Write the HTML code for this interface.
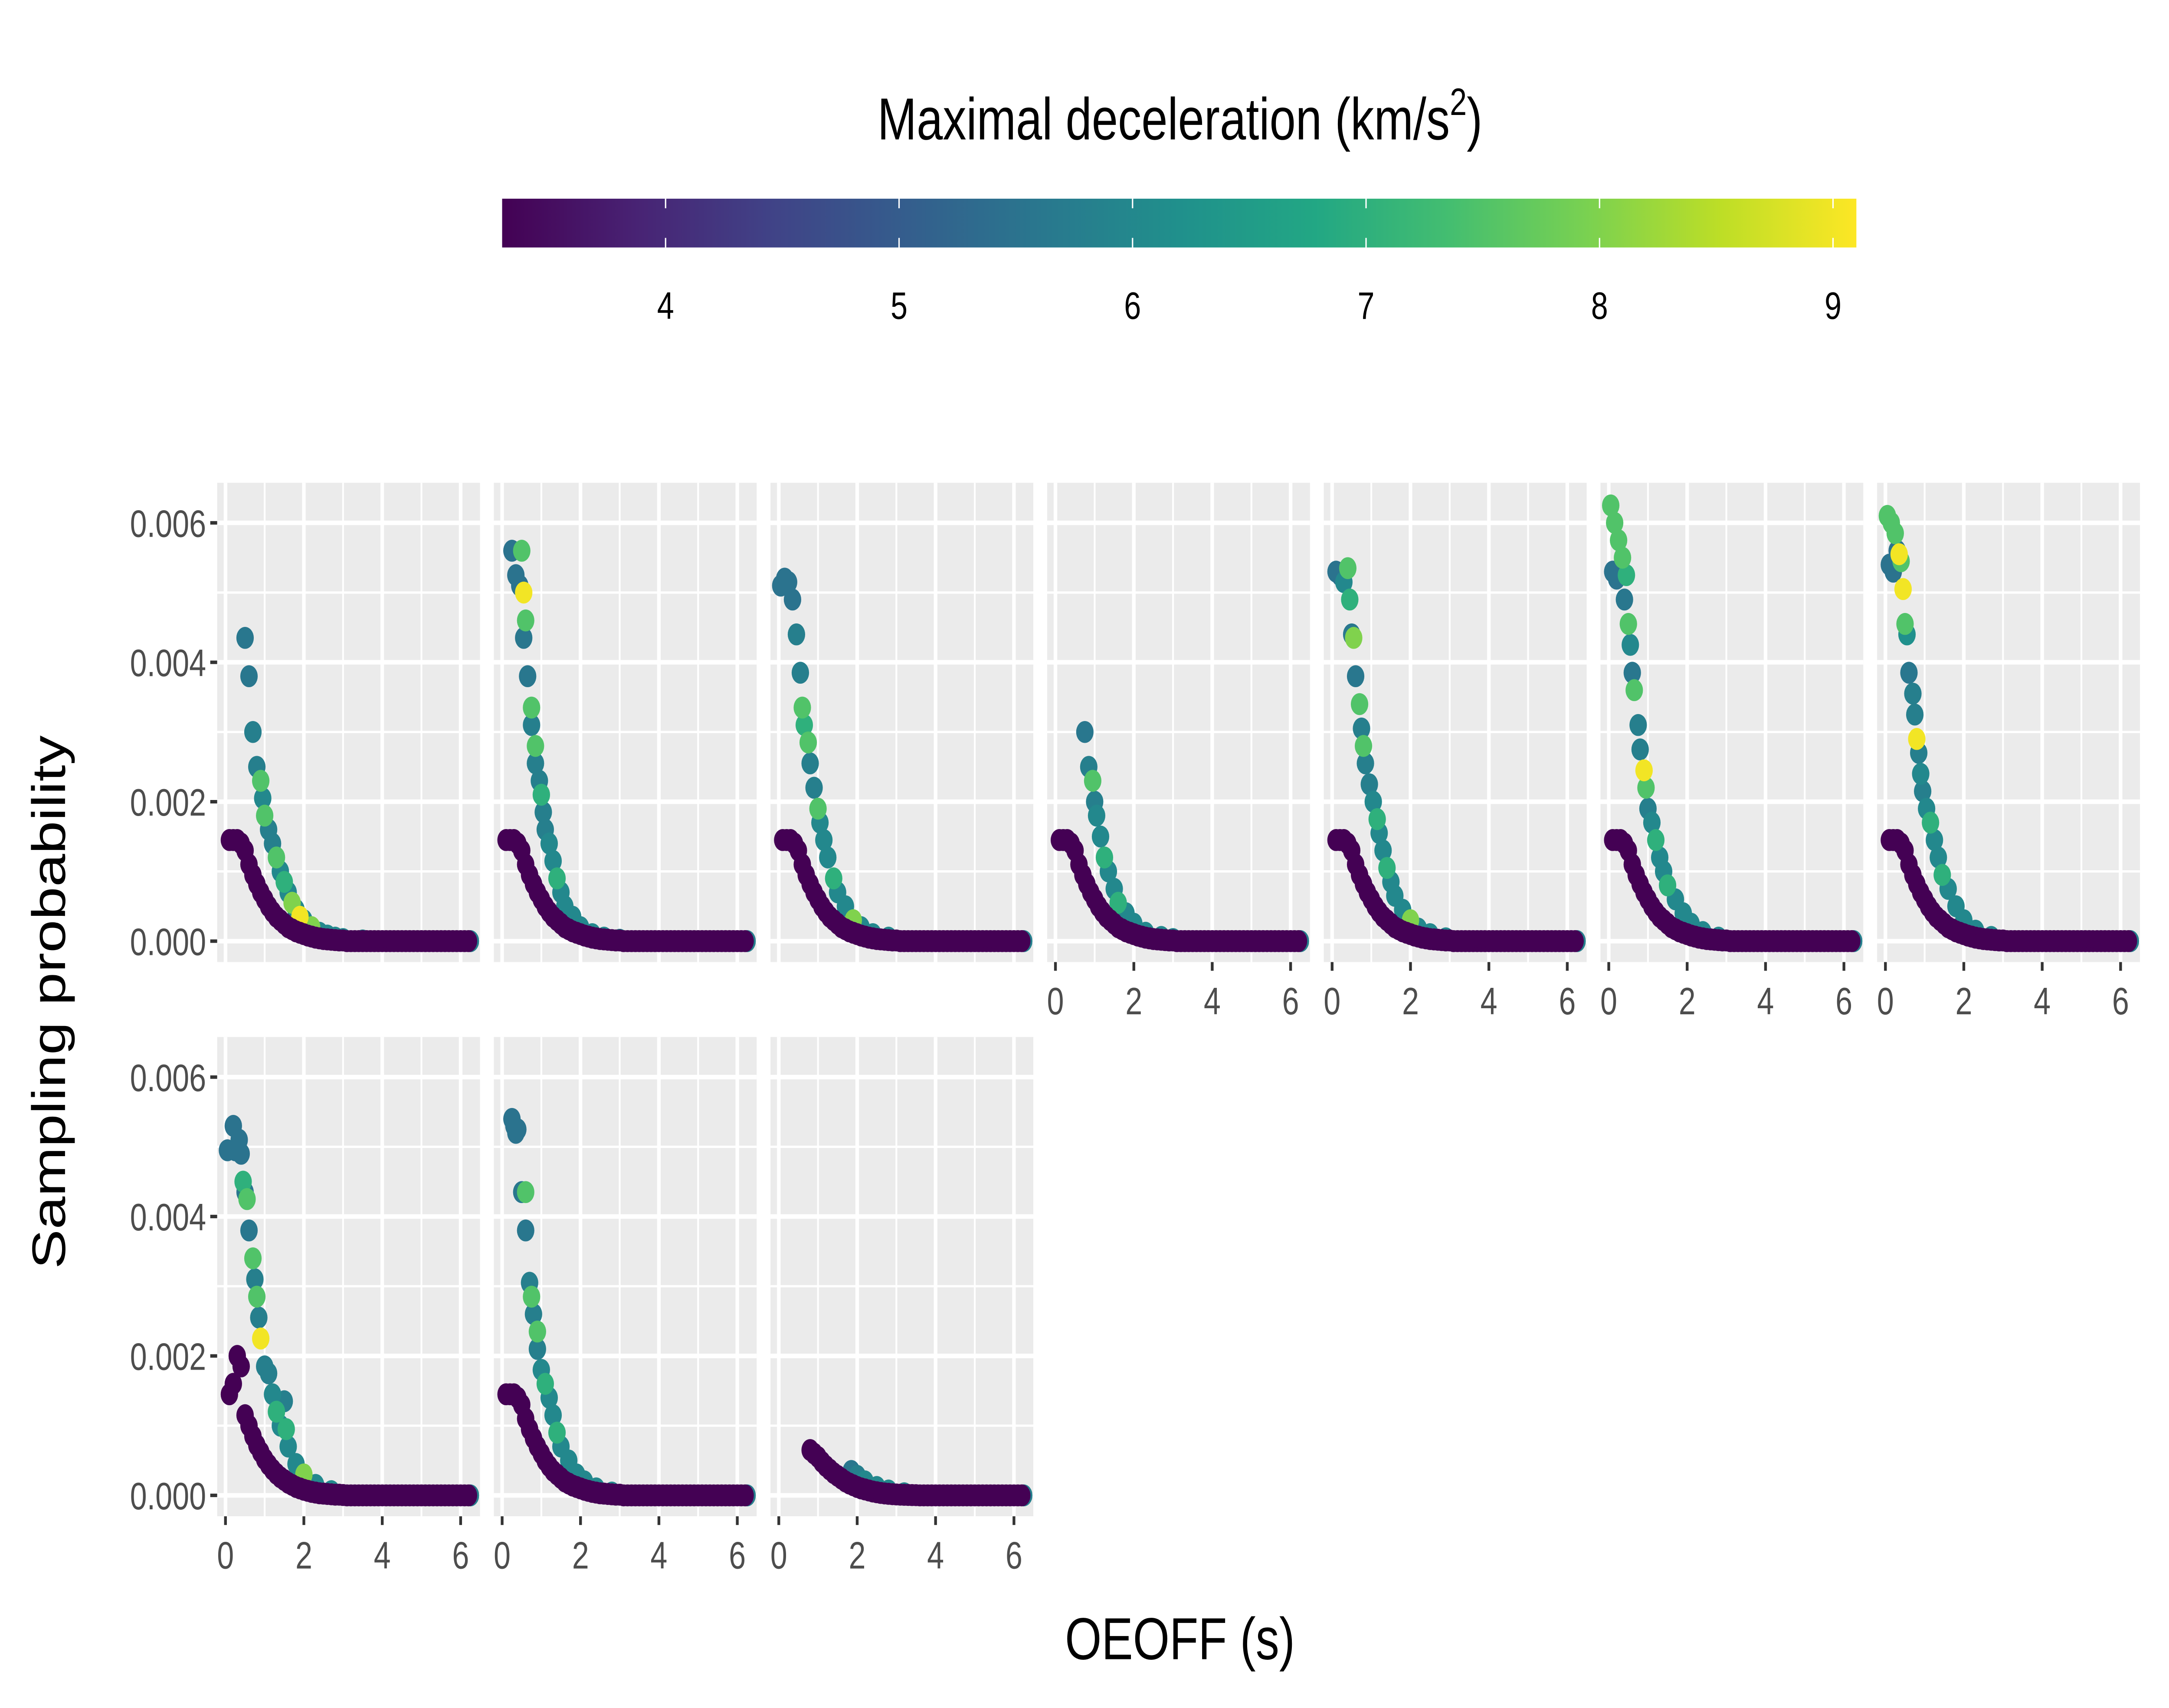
<!DOCTYPE html>
<html><head><meta charset="utf-8"><style>
html,body{margin:0;padding:0;background:#fff;overflow:hidden;width:100vw;height:100vh;}
svg{display:block;width:100vw;height:100vh;font-family:"Liberation Sans",Arial,sans-serif;}
</style></head><body>
<svg id="chart" viewBox="0 0 1568 980" preserveAspectRatio="none" xmlns="http://www.w3.org/2000/svg">
<rect x="0" y="0" width="1568" height="980" fill="#fff"/>
<text x="853" y="80" text-anchor="middle" font-size="34" fill="#000">Maximal deceleration (km/s<tspan font-size="22" dy="-14">2</tspan><tspan dy="14">)</tspan></text>
<g id="legend"></g>
<g id="panels"></g>
<text x="853" y="952" text-anchor="middle" font-size="34" fill="#000">OEOFF (s)</text>
<text transform="translate(47,575) rotate(-90)" text-anchor="middle" font-size="34" fill="#000">Sampling probability</text>
</svg>
<script>
const xTicks = [0, 2, 4, 6];
const yTicks = [0, 0.002, 0.004, 0.006];
const yTickLabels = ["0.000", "0.002", "0.004", "0.006"];
const legendTicks = [4, 5, 6, 7, 8, 9];
const purpleX = [0.1,0.2,0.3,0.4,0.5,0.6,0.7,0.8,0.9,1.0,1.1,1.2,1.3,1.4,1.5,1.6,1.7,1.8,1.9,2.0,2.1,2.2,2.3,2.4,2.5,2.6,2.7,2.8,2.9,3.0,3.1,3.2,3.3,3.4,3.5,3.6,3.7,3.8,3.9,4.0,4.1,4.2,4.3,4.4,4.5,4.6,4.7,4.8,4.9,5.0,5.1,5.2,5.3,5.4,5.5,5.6,5.7,5.8,5.9,6.0,6.1,6.2];
const purpleY = [1.45,1.45,1.45,1.4,1.3,1.1,0.95,0.82,0.7,0.6,0.5,0.42,0.35,0.3,0.25,0.2,0.17,0.14,0.12,0.1,0.08,0.065,0.05,0.04,0.03,0.025,0.02,0.015,0.01,0.01,0,0,0,0,0,0,0,0,0,0,0,0,0,0,0,0,0,0,0,0,0,0,0,0,0,0,0,0,0,0,0,0];
const purpleY8 = [1.45,1.6,2.0,1.85,1.15,1.0,0.85,0.72,0.62,0.52,0.44,0.37,0.31,0.26,0.22,0.18,0.15,0.12,0.1,0.08,0.065,0.05,0.04,0.03,0.025,0.02,0.015,0.01,0.01,0.005,0,0,0,0,0,0,0,0,0,0,0,0,0,0,0,0,0,0,0,0,0,0,0,0,0,0,0,0,0,0,0,0];
const purpleY10 = [null,null,null,null,null,null,null,0.65,0.6,0.55,0.48,0.42,0.37,0.32,0.28,0.24,0.2,0.17,0.145,0.12,0.1,0.085,0.07,0.055,0.045,0.035,0.028,0.022,0.017,0.013,0.01,0.008,0.006,0.004,0.003,0,0,0,0,0,0,0,0,0,0,0,0,0,0,0,0,0,0,0,0,0,0,0,0,0,0,0];
const purpleDecel = 3.3;
const panel1 = [[0.5,4.35,5.6],[0.6,3.8,5.6],[0.7,3.0,5.8],[0.8,2.5,5.8],[0.9,2.3,7.5],[0.95,2.05,6],[1.0,1.8,7.5],[1.1,1.6,5.8],[1.2,1.4,5.8],[1.3,1.2,7.5],[1.4,1.0,6],[1.5,0.85,7],[1.6,0.7,6],[1.7,0.55,8],[1.8,0.45,6],[1.9,0.35,9],[2.0,0.3,6],[2.2,0.2,8],[2.4,0.12,6],[2.6,0.08,6],[2.8,0.05,6],[3.0,0.03,6],[3.5,0.01,6],[6.25,0,5.8]];
const panel2 = [[0.25,5.6,5.5],[0.35,5.25,5.5],[0.45,5.1,5.5],[0.5,5.6,7.5],[0.55,5.0,9],[0.6,4.6,7.5],[0.55,4.35,5.6],[0.65,3.8,5.6],[0.75,3.35,7.5],[0.75,3.1,5.8],[0.85,2.8,7.5],[0.85,2.55,5.8],[0.95,2.3,5.8],[1.0,2.1,7],[1.05,1.85,5.8],[1.1,1.6,5.8],[1.2,1.4,6],[1.3,1.15,6],[1.4,0.9,7],[1.5,0.7,6],[1.6,0.5,6],[1.8,0.35,6],[2.0,0.2,6],[2.3,0.1,6],[2.6,0.05,6],[3.0,0.02,6],[6.25,0,5.8]];
const panel3 = [[0.05,5.1,5.5],[0.15,5.2,5.5],[0.25,5.15,5.5],[0.35,4.9,5.5],[0.45,4.4,5.8],[0.55,3.85,5.8],[0.6,3.35,7.5],[0.65,3.1,7],[0.75,2.85,7.5],[0.8,2.55,5.8],[0.9,2.2,5.8],[1.0,1.9,7.5],[1.05,1.7,6],[1.15,1.45,6],[1.25,1.2,6],[1.4,0.9,7],[1.5,0.7,6],[1.7,0.5,6],[1.9,0.3,8],[2.1,0.2,6],[2.4,0.1,6],[2.8,0.05,6],[6.25,0,5.8]];
const panel4 = [[0.75,3.0,5.6],[0.85,2.5,5.8],[0.95,2.3,7.5],[1.0,2.0,5.8],[1.05,1.8,6],[1.15,1.5,6],[1.25,1.2,7],[1.35,1.0,6],[1.5,0.75,6],[1.6,0.55,7],[1.8,0.4,6],[2.0,0.25,6],[2.3,0.12,6],[2.7,0.06,6],[3.0,0.03,6],[6.25,0,5.8]];
const panel5 = [[0.1,5.3,5.5],[0.2,5.25,5.5],[0.3,5.15,6],[0.4,5.35,7.5],[0.45,4.9,7],[0.5,4.4,5.6],[0.55,4.35,8],[0.6,3.8,5.6],[0.7,3.4,7.5],[0.75,3.05,5.8],[0.8,2.8,7.5],[0.85,2.55,5.8],[0.95,2.25,5.8],[1.05,2.0,6],[1.15,1.75,7],[1.2,1.55,6],[1.3,1.3,6],[1.4,1.05,7],[1.5,0.85,6],[1.6,0.65,6],[1.8,0.45,6],[2.0,0.3,8],[2.2,0.18,6],[2.5,0.1,6],[2.9,0.04,6],[6.25,0,5.8]];
const panel6 = [[0.05,6.25,7.5],[0.1,5.3,5.5],[0.15,6.0,7.5],[0.2,5.2,5.5],[0.25,5.75,7.5],[0.35,5.5,7.5],[0.4,4.9,5.6],[0.45,5.25,7],[0.5,4.55,7.5],[0.55,4.25,6],[0.6,3.85,5.6],[0.65,3.6,7.5],[0.75,3.1,5.8],[0.8,2.75,5.8],[0.9,2.45,9],[0.95,2.2,7.5],[1.0,1.9,5.8],[1.1,1.7,6],[1.2,1.45,7],[1.3,1.2,6],[1.4,1.0,6],[1.5,0.8,7],[1.7,0.6,6],[1.9,0.4,6],[2.1,0.25,6],[2.4,0.13,6],[2.8,0.05,6],[6.25,0,5.8]];
const panel7 = [[0.05,6.1,7.5],[0.1,5.4,5.5],[0.15,6.0,7.5],[0.2,5.3,5.5],[0.25,5.85,7.5],[0.3,5.6,5.5],[0.35,5.55,9],[0.4,5.45,7.5],[0.45,5.05,9],[0.5,4.55,7.5],[0.55,4.4,6.2],[0.6,3.85,5.6],[0.7,3.55,5.8],[0.75,3.25,5.8],[0.8,2.9,9],[0.85,2.7,5.8],[0.9,2.4,6],[0.95,2.15,5.8],[1.05,1.9,6],[1.15,1.7,7],[1.25,1.45,6],[1.35,1.2,6],[1.45,0.95,7],[1.6,0.75,6],[1.8,0.5,6],[2.0,0.3,6],[2.3,0.15,6],[2.7,0.06,6],[6.25,0,5.8]];
const panel8 = [[0.05,4.95,5.5],[0.2,5.3,5.5],[0.25,4.95,5.5],[0.35,5.1,5.5],[0.4,4.9,5.5],[0.45,4.5,7],[0.5,4.35,5.6],[0.55,4.25,7.5],[0.6,3.8,5.6],[0.7,3.4,7.5],[0.75,3.1,5.8],[0.8,2.85,7.5],[0.85,2.55,5.8],[0.9,2.25,9],[1.0,1.85,5.8],[1.1,1.75,5.8],[1.2,1.45,6],[1.3,1.2,7],[1.4,1.0,6],[1.5,1.35,5.8],[1.55,0.95,7],[1.6,0.7,6],[1.8,0.45,6],[2.0,0.3,8],[2.3,0.15,6],[2.7,0.06,6],[6.25,0,5.8]];
const panel9 = [[0.25,5.4,5.5],[0.3,5.3,5.5],[0.35,5.2,5.5],[0.4,5.25,5.5],[0.5,4.35,5.6],[0.6,4.35,7.5],[0.6,3.8,5.6],[0.7,3.05,5.8],[0.75,2.85,7.5],[0.8,2.6,5.8],[0.9,2.35,7.5],[0.9,2.1,5.8],[1.0,1.8,6],[1.1,1.6,7],[1.2,1.4,6],[1.3,1.15,6],[1.4,0.9,7],[1.5,0.7,6],[1.7,0.5,6],[1.9,0.3,6],[2.1,0.2,6],[2.4,0.1,6],[2.8,0.04,6],[6.25,0,5.8]];
const panel10 = [[1.85,0.35,5.6],[2.0,0.28,5.8],[2.2,0.2,6],[2.5,0.12,6],[2.8,0.07,6],[3.2,0.03,6],[6.25,0,5.8]];

const NS = "http://www.w3.org/2000/svg";
function mk(tag, attrs, parent){const e=document.createElementNS(NS,tag);for(const k in attrs)e.setAttribute(k,attrs[k]);parent.appendChild(e);return e;}
const vstops=[[0,68,1,84],[0.1,72,35,116],[0.2,64,67,135],[0.3,52,94,141],[0.4,41,120,142],[0.5,32,144,140],[0.6,34,167,132],[0.7,68,190,112],[0.8,121,209,81],[0.9,189,222,38],[1,253,231,37]];
function viridis(t){t=Math.max(0,Math.min(1,t));for(let i=1;i<vstops.length;i++){if(t<=vstops[i][0]){const a=vstops[i-1],b=vstops[i];const f=(t-a[0])/(b[0]-a[0]);return `rgb(${Math.round(a[1]+f*(b[1]-a[1]))},${Math.round(a[2]+f*(b[2]-a[2]))},${Math.round(a[3]+f*(b[3]-a[3]))})`;}}return "rgb(253,231,37)";}
const cMin=3.3,cMax=9.1;
function col(v){return viridis((v-cMin)/(cMax-cMin));}

const lg=document.getElementById('legend');
const lx0=363,lx1=1342,ly=114,lh=28;
const defs=mk('defs',{},lg);
const grad=mk('linearGradient',{id:'vg',x1:'0',x2:'1',y1:'0',y2:'0'},defs);
for(const s of vstops){mk('stop',{offset:s[0],'stop-color':`rgb(${s[1]},${s[2]},${s[3]})`},grad);}
const bar=mk('rect',{x:lx0,y:ly,width:lx1-lx0,height:lh,fill:'url(#vg)'},lg);


function lgx(v){return lx0+(v-cMin)/(cMax-cMin)*(lx1-lx0);}
for(const t of legendTicks){
  const x=lgx(t);
  mk('line',{x1:x,x2:x,y1:ly,y2:ly+5.5,stroke:'#fff','stroke-width':1},lg);
  mk('line',{x1:x,x2:x,y1:ly+lh-5.5,y2:ly+lh,stroke:'#fff','stroke-width':1},lg);
  const tx=mk('text',{x:x,y:183,'text-anchor':'middle','font-size':22,fill:'#000'},lg);
  tx.textContent=t;
  
  
}

const panelsG=document.getElementById('panels');
const pw=190,ph=275;
const layout=[
 {x:157,y:277,data:panel1,py:purpleY,xl:false,yl:true},
 {x:357,y:277,data:panel2,py:purpleY,xl:false,yl:false},
 {x:557,y:277,data:panel3,py:purpleY,xl:false,yl:false},
 {x:757,y:277,data:panel4,py:purpleY,xl:true,yl:false},
 {x:957,y:277,data:panel5,py:purpleY,xl:true,yl:false},
 {x:1157,y:277,data:panel6,py:purpleY,xl:true,yl:false},
 {x:1357,y:277,data:panel7,py:purpleY,xl:true,yl:false},
 {x:157,y:595,data:panel8,py:purpleY8,xl:true,yl:true},
 {x:357,y:595,data:panel9,py:purpleY,xl:true,yl:false},
 {x:557,y:595,data:panel10,py:purpleY10,xl:true,yl:false}
];
layout.forEach((p,i)=>{
  const g=mk('g',{},panelsG);
  
  
  const xs=v=>p.x+6+(v/6)*170;
  const ys=v=>p.y+23+(0.006-v)/0.006*240;
  mk('rect',{x:p.x,y:p.y,width:pw,height:ph,fill:'#ebebeb'},g);
  for(const v of [1,3,5]) mk('line',{x1:xs(v),x2:xs(v),y1:p.y,y2:p.y+ph,stroke:'#fff','stroke-width':1.3},g);
  for(const v of [0.001,0.003,0.005]) mk('line',{x1:p.x,x2:p.x+pw,y1:ys(v),y2:ys(v),stroke:'#fff','stroke-width':1.3},g);
  for(const v of xTicks) mk('line',{x1:xs(v),x2:xs(v),y1:p.y,y2:p.y+ph,stroke:'#fff','stroke-width':2.6},g);
  for(const v of yTicks) mk('line',{x1:p.x,x2:p.x+pw,y1:ys(v),y2:ys(v),stroke:'#fff','stroke-width':2.6},g);
  const pts=p.data.slice().sort((a,b)=>a[2]-b[2]);
  for(const d of pts){
    const c=mk('circle',{cx:xs(d[0]),cy:ys(d[1]/1000),r:6.3,fill:col(d[2])},g);
    
    
  }
  for(let k=0;k<purpleX.length;k++){
    if(p.py[k]===null)continue;
    const c=mk('circle',{cx:xs(purpleX[k]),cy:ys(p.py[k]/1000),r:6.3,fill:col(purpleDecel)},g);
    
    
  }
  if(p.yl){
    yTicks.forEach((v,j)=>{
      mk('line',{x1:p.x-5,x2:p.x,y1:ys(v),y2:ys(v),stroke:'#333','stroke-width':2},g);
      const t=mk('text',{x:p.x-8,y:ys(v)+8,'text-anchor':'end','font-size':22,fill:'#4d4d4d'},g);
      t.textContent=yTickLabels[j];
      
      
    });
  }
  if(p.xl){
    for(const v of xTicks){
      mk('line',{x1:xs(v),x2:xs(v),y1:p.y+ph,y2:p.y+ph+5,stroke:'#333','stroke-width':2},g);
      const t=mk('text',{x:xs(v),y:p.y+ph+30,'text-anchor':'middle','font-size':22,fill:'#4d4d4d'},g);
      t.textContent=v;
      
      
    }
  }
});
</script>
</body></html>
